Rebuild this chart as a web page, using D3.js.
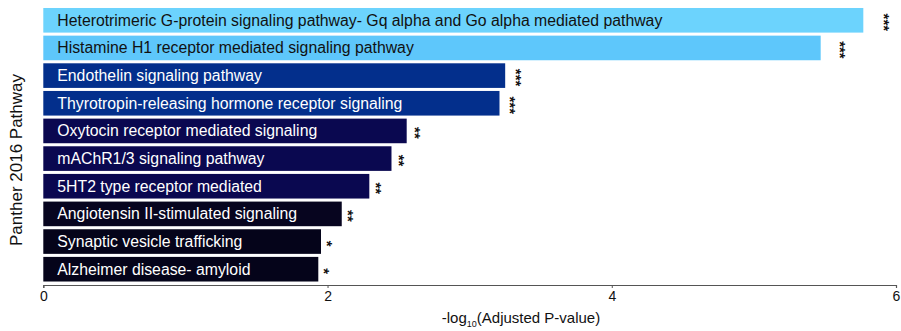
<!DOCTYPE html>
<html>
<head>
<meta charset="utf-8">
<script src="https://cdn.jsdelivr.net/npm/d3@7"></script>
<style>
  html, body { margin: 0; padding: 0; background: #fff; }
  svg { display: block; font-family: "Liberation Sans", Arial, sans-serif; }
</style>
</head>
<body>
<svg id="chart" width="901" height="331"></svg>
<script>
// Panther 2016 pathway enrichment, top to bottom
const pathways = [
  "Heterotrimeric G-protein signaling pathway- Gq alpha and Go alpha mediated pathway",
  "Histamine H1 receptor mediated signaling pathway",
  "Endothelin signaling pathway",
  "Thyrotropin-releasing hormone receptor signaling",
  "Oxytocin receptor mediated signaling",
  "mAChR1/3 signaling pathway",
  "5HT2 type receptor mediated",
  "Angiotensin II-stimulated signaling",
  "Synaptic vesicle trafficking",
  "Alzheimer disease- amyloid"
];
const negLogP = [5.77, 5.47, 3.25, 3.21, 2.557, 2.45, 2.294, 2.10, 1.954, 1.935];
const significance = ["***", "***", "***", "***", "**", "**", "**", "**", "*", "*"];
const barColors = ["#6cd3fd", "#5ec7fb", "#032f8c", "#032f8c", "#0a0850", "#0a0850", "#0a0850", "#07051f", "#05041a", "#05041a"];
const labelColors = ["#111", "#111", "#fff", "#fff", "#fff", "#fff", "#fff", "#fff", "#fff", "#fff"];
const xTicks = [0, 2, 4, 6];

const svg = d3.select("#chart");
const x = d3.scaleLinear().domain([0, 6]).range([43.3, 896]);
const y = d3.scaleBand().domain(pathways).range([6.6, 282.9]).paddingInner(0.11).paddingOuter(0.05);

const rows = pathways.map((p, i) => ({ name: p, v: negLogP[i], sig: significance[i], fill: barColors[i], text: labelColors[i] }));

// bars
svg.append("g").selectAll("rect").data(rows).join("rect")
  .attr("x", x(0))
  .attr("y", d => y(d.name))
  .attr("width", d => x(d.v) - x(0))
  .attr("height", y.bandwidth())
  .attr("fill", d => d.fill);

// pathway names inside bars
svg.append("g").selectAll("text").data(rows).join("text")
  .attr("x", x(0) + 14)
  .attr("y", d => y(d.name) + y.bandwidth() / 2 + 5.5)
  .attr("font-size", 15.8)
  .attr("fill", d => d.text)
  .text(d => d.name);

// significance stars, set vertically beside each bar
svg.append("g").selectAll("text").data(rows).join("text")
  .attr("transform", d => `translate(${x(d.v * 1.028) + 4},${y(d.name) + y.bandwidth() / 2 + 2}) rotate(90)`)
  .attr("text-anchor", "middle")
  .attr("dy", "0.75em")
  .attr("font-size", 15)
  .attr("font-weight", "bold")
  .attr("fill", "#111")
  .text(d => d.sig);

// x axis
const axis = svg.append("g")
  .attr("transform", "translate(0,285)")
  .call(d3.axisBottom(x).tickValues(xTicks).tickSize(3).tickFormat(d3.format("d")));
axis.select(".domain").attr("stroke", "#555").attr("stroke-width", 1.2);
axis.selectAll(".tick line").attr("stroke", "#555");
axis.selectAll(".tick text").attr("font-size", 14).attr("fill", "#111")
  .attr("font-family", "Liberation Sans, Arial, sans-serif").attr("y", 6);

// axis titles
const xt = svg.append("text")
  .attr("x", 521).attr("y", 323)
  .attr("text-anchor", "middle")
  .attr("font-size", 15)
  .attr("fill", "#111");
xt.append("tspan").text("-log");
xt.append("tspan").attr("font-size", 9).attr("dy", 4).text("10");
xt.append("tspan").attr("dy", -4).text("(Adjusted P-value)");

svg.append("text")
  .attr("transform", "translate(22,160) rotate(-90)")
  .attr("text-anchor", "middle")
  .attr("font-size", 17)
  .attr("fill", "#111")
  .text("Panther 2016 Pathway");
</script>
</body>
</html>
